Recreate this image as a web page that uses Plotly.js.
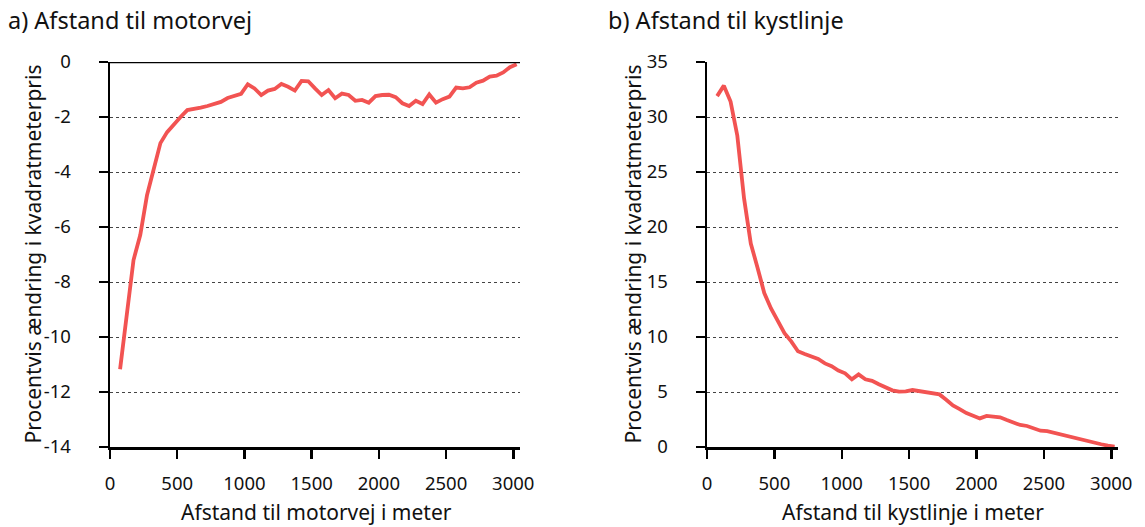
<!DOCTYPE html>
<html>
<head>
<meta charset="utf-8">
<script src="https://cdn.plot.ly/plotly-3.0.1.min.js"></script>
<style>html,body{margin:0;padding:0;background:#fff;}#chart{width:1145px;height:527px;}</style>
</head>
<body>
<div id="chart"></div>
<script>
// Distances (m)
const distMotorvej = [75,125,175,225,275,325,375,425,475,525,575,625,675,725,775,825,875,925,975,1025,1075,1125,1175,1225,1275,1325,1375,1425,1475,1525,1575,1625,1675,1725,1775,1825,1875,1925,1975,2025,2075,2125,2175,2225,2275,2325,2375,2425,2475,2525,2575,2625,2675,2725,2775,2825,2875,2925,2975,3025];
const pctMotorvej = [-11.17,-9.15,-7.2,-6.29,-4.85,-3.9,-2.95,-2.55,-2.25,-2.0,-1.75,-1.72,-1.66,-1.6,-1.52,-1.45,-1.31,-1.24,-1.16,-0.81,-0.96,-1.2,-1.04,-0.98,-0.8,-0.9,-1.04,-0.69,-0.7,-0.96,-1.2,-1.02,-1.32,-1.15,-1.2,-1.41,-1.38,-1.48,-1.24,-1.2,-1.19,-1.28,-1.5,-1.6,-1.41,-1.53,-1.18,-1.48,-1.35,-1.26,-0.93,-0.96,-0.92,-0.75,-0.68,-0.53,-0.5,-0.38,-0.19,-0.08];
const distKyst = [75,125,175,225,275,325,375,425,475,525,575,625,675,725,775,825,875,925,975,1025,1075,1125,1175,1225,1275,1325,1375,1425,1475,1525,1575,1625,1675,1725,1775,1825,1875,1925,1975,2025,2075,2125,2175,2225,2275,2325,2375,2425,2475,2525,2575,2625,2675,2725,2775,2825,2875,2925,2975,3025];
const pctKyst = [31.9,32.85,31.4,28.3,22.6,18.5,16.3,14.0,12.6,11.4,10.35,9.6,8.7,8.45,8.25,8.0,7.6,7.35,6.95,6.7,6.15,6.6,6.15,6.02,5.7,5.45,5.15,5.03,5.05,5.18,5.1,5.0,4.9,4.78,4.3,3.78,3.45,3.08,2.85,2.6,2.82,2.72,2.7,2.45,2.2,2.0,1.91,1.7,1.48,1.45,1.3,1.15,0.92,0.78,0.63,0.5,0.38,0.25,0.12,0.03];

// Tick values / labels
const xTicks = [0,500,1000,1500,2000,2500,3000];
const yTicksA = [0,-2,-4,-6,-8,-10,-12,-14];
const yTickTextA = ["0","-2","-4","-6","-8","-10","-12","-14"];
const yTicksB = [0,5,10,15,20,25,30,35];

const titleA = "a) Afstand til motorvej";
const titleB = "b) Afstand til kystlinje";
const xTitleA = "Afstand til motorvej i meter";
const xTitleB = "Afstand til kystlinje i meter";
const yTitle = "Procentvis ændring i kvadratmeterpris";

const FONT = "Noto Sans, Open Sans, sans-serif";
const lineColor = "#F25352";

const traces = [
  {x: distMotorvej, y: pctMotorvej, xaxis: "x", yaxis: "y", type: "scatter", mode: "lines",
   line: {color: lineColor, width: 3.8}, hoverinfo: "x+y"},
  {x: distKyst, y: pctKyst, xaxis: "x2", yaxis: "y2", type: "scatter", mode: "lines",
   line: {color: lineColor, width: 3.8}, hoverinfo: "x+y"}
];

const W = 1145;
const xAxisCommon = {
  range: [0, 3050], tickvals: xTicks,
  showline: true, linecolor: "#000", linewidth: 2.5,
  ticks: "outside", ticklen: 9, tickwidth: 2.5, tickcolor: "#000",
  showgrid: false, zeroline: false, ticklabelstandoff: 9,
  tickfont: {family: FONT, size: 18.5, color: "#111"}
};
const yAxisCommon = {
  showline: true, linecolor: "#000", linewidth: 2.5,
  ticks: "outside", ticklen: 9, tickwidth: 2.5, tickcolor: "#000",
  showgrid: true, gridcolor: "#444", gridwidth: 1, griddash: "dot",
  zeroline: false, ticklabelstandoff: 24,
  tickfont: {family: FONT, size: 18.5, color: "#111"}
};

const layout = {
  width: 1145, height: 527,
  margin: {l: 0, r: 0, t: 62, b: 80},
  paper_bgcolor: "#fff", plot_bgcolor: "#fff",
  showlegend: false,
  font: {family: FONT, color: "#111"},
  xaxis: Object.assign({}, xAxisCommon, {domain: [110/W, 520/W], anchor: "y"}),
  yaxis: Object.assign({}, yAxisCommon, {domain: [0, 1], anchor: "x", range: [-14, 0], tickvals: yTicksA, ticktext: yTickTextA}),
  xaxis2: Object.assign({}, xAxisCommon, {domain: [707/W, 1118/W], anchor: "y2"}),
  yaxis2: Object.assign({}, yAxisCommon, {domain: [0, 1], anchor: "x2", range: [0, 35], tickvals: yTicksB}),
  shapes: [
    {type: "line", xref: "x domain", yref: "y", x0: 0, x1: 1, y0: 0, y1: 0, line: {color: "#000", width: 2.5}}
  ],
  annotations: [
    {text: titleA, xref: "paper", yref: "paper", x: 6/W, y: 1 + 42/385, xanchor: "left", yanchor: "middle", showarrow: false, font: {family: FONT, size: 23.5, color: "#111"}},
    {text: titleB, xref: "paper", yref: "paper", x: 606/W, y: 1 + 42/385, xanchor: "left", yanchor: "middle", showarrow: false, font: {family: FONT, size: 23.5, color: "#111"}},
    {text: xTitleA, xref: "paper", yref: "paper", x: 316/W, y: -65/385, xanchor: "center", yanchor: "middle", showarrow: false, font: {family: FONT, size: 21, color: "#111"}},
    {text: xTitleB, xref: "paper", yref: "paper", x: 913/W, y: -65/385, xanchor: "center", yanchor: "middle", showarrow: false, font: {family: FONT, size: 21, color: "#111"}},
    {text: yTitle, xref: "paper", yref: "paper", x: 32/W, y: 0.5, xanchor: "center", yanchor: "middle", textangle: -90, showarrow: false, font: {family: FONT, size: 21, color: "#111"}},
    {text: yTitle, xref: "paper", yref: "paper", x: 632/W, y: 0.5, xanchor: "center", yanchor: "middle", textangle: -90, showarrow: false, font: {family: FONT, size: 21, color: "#111"}}
  ]
};

Plotly.newPlot("chart", traces, layout, {displayModeBar: false, staticPlot: true});
</script>
</body>
</html>
